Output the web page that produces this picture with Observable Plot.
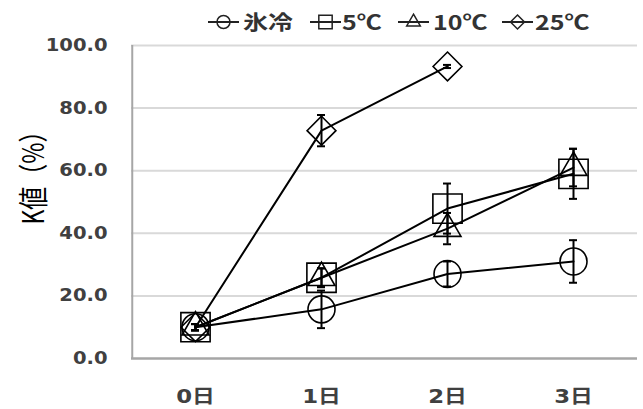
<!DOCTYPE html>
<html><head><meta charset="utf-8">
<script src="https://cdn.jsdelivr.net/npm/d3@7"></script>
<script src="https://cdn.jsdelivr.net/npm/@observablehq/plot@0.6"></script>
<style>
html,body{margin:0;padding:0;background:#fff;}
#wrap{position:relative;width:643px;height:409px;overflow:hidden;background:#fff;}
.legmark{position:absolute;top:12px;}
.legtxt{position:absolute;top:0;height:44px;line-height:44px;font-family:"Noto Sans CJK JP";font-size:20px;font-weight:700;color:#333;transform:scaleX(1.25);transform-origin:left center;white-space:nowrap;}
</style></head><body><div id="wrap"></div>
<script>
const days = ["0日", "1日", "2日", "3日"];
const seriesNames = ["氷冷", "5℃", "10℃", "25℃"];
const iceValues = [10.0, 15.7, 27.0, 31.0];
const iceErrors = [1.0, 6.0, 4.0, 6.8];
const c5Values = [10.0, 25.8, 47.9, 59.0];
const c5Errors = [1.0, 3.0, 8.0, 8.0];
const c10Values = [10.0, 25.8, 41.5, 61.0];
const c10Errors = [1.0, 3.0, 5.0, 6.0];
const c25Values = [10.0, 72.8, 93.3];
const c25Errors = [1.0, 5.0, 0.5];
const yTicks = [0, 20, 40, 60, 80, 100];
const yLabel = "K値（%）";

const valueLists = [iceValues, c5Values, c10Values, c25Values];
const errorLists = [iceErrors, c5Errors, c10Errors, c25Errors];
const symbols = ["circle", "square", "triangle", "diamond2"];
const radii = [13.5, 16.5, 10, 13];

const rows = [];
seriesNames.forEach((s, k) => {
  valueLists[k].forEach((v, i) => rows.push({series: s, day: days[i], value: v, err: errorLists[k][i]}));
});

const fontMain = "'DejaVu Sans','Noto Sans CJK JP',sans-serif";
const halfBand = (643 - 131 - 6) / days.length / 2;

const chart = Plot.plot({
  width: 643, height: 409,
  marginLeft: 131, marginRight: 6, marginTop: 45, marginBottom: 51,
  x: {domain: days, padding: 0},
  y: {domain: [0, 100]},
  style: {fontFamily: fontMain, color: "#404040", background: "#fff", overflow: "visible"},
  marks: [
    Plot.gridY(yTicks.slice(1), {stroke: "#d9d9d9", strokeOpacity: 1, strokeWidth: 2}),
    Plot.ruleX(days.slice(0, 1), {x: d => d, y1: 0, y2: 100, dx: -halfBand, stroke: "#a6a6a6", strokeWidth: 2}),
    Plot.ruleY([0], {stroke: "#a6a6a6", strokeWidth: 2.5}),
    Plot.axisY({ticks: yTicks, tickFormat: d3.format(".1f"), tickSize: 0, tickPadding: 24, fontSize: 17, fontWeight: "bold", label: null}),
    Plot.axisX({tickSize: 0, tickPadding: 31, fontSize: 19, fontWeight: "bold", label: null}),
    Plot.text([yLabel], {frameAnchor: "left", textAnchor: "middle", lineAnchor: "middle", rotate: -90, dx: -97, dy: -30, fontSize: 23, fontFamily: "Noto Sans CJK JP", fill: "#000"}),
    Plot.line(rows, {x: "day", y: "value", z: "series", stroke: "#000", strokeWidth: 2}),
    Plot.ruleX(rows, {x: "day", y1: d => d.value - d.err, y2: d => d.value + d.err, stroke: "#000", strokeWidth: 2}),
    Plot.tickY(rows, {x: "day", y: d => d.value - d.err, stroke: "#000", strokeWidth: 2, insetLeft: 59, insetRight: 59}),
    Plot.tickY(rows, {x: "day", y: d => d.value + d.err, stroke: "#000", strokeWidth: 2, insetLeft: 59, insetRight: 59}),
    ...seriesNames.map((s, k) => Plot.dot(rows.filter(d => d.series === s), {
      x: "day", y: "value", symbol: symbols[k], r: radii[k], stroke: "#000", strokeWidth: 1.6, fill: "none"
    }))
  ]
});

const wrap = document.getElementById("wrap");
wrap.appendChild(chart);

// widen texts horizontally like the reference rendering
chart.querySelectorAll("g[aria-label$='tick label'] text").forEach(t => {
  const tr = t.getAttribute("transform") || "";
  const isY = t.closest("g[aria-label^='y-axis']");
  t.setAttribute("transform", tr + (isY ? " scale(1.15,1)" : " scale(1.2,1)"));
});
const lab = [...chart.querySelectorAll("text")].find(t => t.textContent === yLabel);
if (lab) lab.setAttribute("transform", (lab.getAttribute("transform") || "") + " scale(1,1.3)");

// legend
const legLine = [208, 310, 398, 502];
const legText = [243, 342, 433, 535];
const legSym = [d3.symbolCircle, d3.symbolSquare2, d3.symbolTriangle2, d3.symbolDiamond2];
const legR = [6.5, 8.5, 6.5, 6.3];
seriesNames.forEach((s, k) => {
  const svg = d3.select(wrap).append("svg").attr("class", "legmark")
    .style("left", legLine[k] + "px").attr("width", 32).attr("height", 20);
  svg.append("line").attr("x1", 0).attr("x2", 31).attr("y1", 10).attr("y2", 10)
    .attr("stroke", "#222").attr("stroke-width", 2);
  svg.append("path").attr("transform", "translate(15.5,10)")
    .attr("d", d3.symbol(legSym[k], Math.PI * legR[k] * legR[k])())
    .attr("fill", "none").attr("stroke", "#222").attr("stroke-width", 1.5);
  d3.select(wrap).append("div").attr("class", "legtxt").style("left", legText[k] + "px").text(s);
});
</script>
</body></html>
